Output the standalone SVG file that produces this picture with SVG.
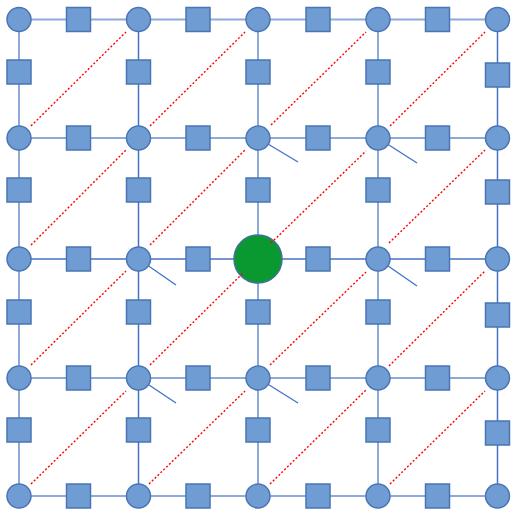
<svg xmlns="http://www.w3.org/2000/svg" width="512" height="510" viewBox="0 0 512 510">
<style>
.l{stroke:#8eaadb;stroke-width:2;fill:none}
.d{stroke:#4472c4;stroke-width:1.5;fill:none}
.t{stroke:#4472c4;stroke-width:1.3;fill:none}
.r{stroke:#ff0000;stroke-width:1.4;stroke-dasharray:2 2;fill:none}
.n{fill:#6f9dd3;stroke:#4a74b4;stroke-width:1.5}
.g{fill:#0a9930;stroke:#41719c;stroke-width:1.5}
</style>
<rect width="512" height="510" fill="#ffffff"/>
<g id="connectors">
<line class="l" x1="19" y1="19.5" x2="497.5" y2="19.5"/>
<line class="l" x1="19" y1="138" x2="497.5" y2="138"/>
<line class="d" x1="19" y1="259" x2="497.5" y2="259"/>
<line class="l" x1="19" y1="378" x2="497.5" y2="378"/>
<line class="l" x1="19" y1="496" x2="497.5" y2="496"/>
<line class="l" x1="19" y1="19.5" x2="19" y2="496"/>
<line class="d" x1="138.5" y1="19.5" x2="138.5" y2="496"/>
<line class="l" x1="258" y1="19.5" x2="258" y2="496"/>
<line class="l" x1="378" y1="19.5" x2="378" y2="496"/>
<line class="d" x1="497.5" y1="19.5" x2="497.5" y2="496"/>
<line class="t" x1="258" y1="138" x2="298" y2="162"/>
<line class="t" x1="378" y1="138" x2="417" y2="163"/>
<line class="t" x1="138.5" y1="259" x2="176" y2="285"/>
<line class="t" x1="378" y1="259" x2="417" y2="286"/>
<line class="t" x1="138.5" y1="378" x2="176" y2="403"/>
<line class="t" x1="258" y1="378" x2="298" y2="403"/>
</g>
<g id="squares">
<rect id="sh00" class="n" x="66.5" y="7.5" width="24" height="24"/>
<rect id="sh01" class="n" x="186" y="7.5" width="24" height="24"/>
<rect id="sh02" class="n" x="306" y="7.5" width="24" height="24"/>
<rect id="sh03" class="n" x="425.5" y="7.5" width="24" height="24"/>
<rect id="sh10" class="n" x="66.5" y="126" width="24" height="24"/>
<rect id="sh11" class="n" x="186" y="126" width="24" height="24"/>
<rect id="sh12" class="n" x="306" y="126" width="24" height="24"/>
<rect id="sh13" class="n" x="425.5" y="126" width="24" height="24"/>
<rect id="sh20" class="n" x="66.5" y="247" width="24" height="24"/>
<rect id="sh21" class="n" x="186" y="247" width="24" height="24"/>
<rect id="sh22" class="n" x="306" y="247" width="24" height="24"/>
<rect id="sh23" class="n" x="425.5" y="247" width="24" height="24"/>
<rect id="sh30" class="n" x="66.5" y="366" width="24" height="24"/>
<rect id="sh31" class="n" x="186" y="366" width="24" height="24"/>
<rect id="sh32" class="n" x="306" y="366" width="24" height="24"/>
<rect id="sh33" class="n" x="425.5" y="366" width="24" height="24"/>
<rect id="sh40" class="n" x="66.5" y="484" width="24" height="24"/>
<rect id="sh41" class="n" x="186" y="484" width="24" height="24"/>
<rect id="sh42" class="n" x="306" y="484" width="24" height="24"/>
<rect id="sh43" class="n" x="425.5" y="484" width="24" height="24"/>
<rect id="sv00" class="n" x="7" y="60" width="24" height="24"/>
<rect id="sv01" class="n" x="7" y="178" width="24" height="24"/>
<rect id="sv02" class="n" x="7" y="300" width="24" height="24"/>
<rect id="sv03" class="n" x="7" y="418" width="24" height="24"/>
<rect id="sv10" class="n" x="126.5" y="60" width="24" height="24"/>
<rect id="sv11" class="n" x="126.5" y="178" width="24" height="24"/>
<rect id="sv12" class="n" x="126.5" y="300" width="24" height="24"/>
<rect id="sv13" class="n" x="126.5" y="418" width="24" height="24"/>
<rect id="sv20" class="n" x="246" y="60" width="24" height="24"/>
<rect id="sv21" class="n" x="246" y="178" width="24" height="24"/>
<rect id="sv22" class="n" x="246" y="300" width="24" height="24"/>
<rect id="sv23" class="n" x="246" y="418" width="24" height="24"/>
<rect id="sv30" class="n" x="366" y="60" width="24" height="24"/>
<rect id="sv31" class="n" x="366" y="178" width="24" height="24"/>
<rect id="sv32" class="n" x="366" y="300" width="24" height="24"/>
<rect id="sv33" class="n" x="366" y="418" width="24" height="24"/>
<rect id="sv40" class="n" x="485.5" y="63" width="24" height="24"/>
<rect id="sv41" class="n" x="485.5" y="180" width="24" height="24"/>
<rect id="sv42" class="n" x="485.5" y="303" width="24" height="24"/>
<rect id="sv43" class="n" x="485.5" y="421" width="24" height="24"/>
</g>
<g id="circles">
<circle id="c00" class="n" cx="19" cy="19.5" r="12"/>
<circle id="c01" class="n" cx="138.5" cy="19.5" r="12"/>
<circle id="c02" class="n" cx="258" cy="19.5" r="12"/>
<circle id="c03" class="n" cx="378" cy="19.5" r="12"/>
<circle id="c04" class="n" cx="497.5" cy="19.5" r="12"/>
<circle id="c10" class="n" cx="19" cy="138" r="12"/>
<circle id="c11" class="n" cx="138.5" cy="138" r="12"/>
<circle id="c12" class="n" cx="258" cy="138" r="12"/>
<circle id="c13" class="n" cx="378" cy="138" r="12"/>
<circle id="c14" class="n" cx="497.5" cy="138" r="12"/>
<circle id="c20" class="n" cx="19" cy="259" r="12"/>
<circle id="c21" class="n" cx="138.5" cy="259" r="12"/>
<circle id="c22" class="g" cx="258" cy="259" r="24"/>
<circle id="c23" class="n" cx="378" cy="259" r="12"/>
<circle id="c24" class="n" cx="497.5" cy="259" r="12"/>
<circle id="c30" class="n" cx="19" cy="378" r="12"/>
<circle id="c31" class="n" cx="138.5" cy="378" r="12"/>
<circle id="c32" class="n" cx="258" cy="378" r="12"/>
<circle id="c33" class="n" cx="378" cy="378" r="12"/>
<circle id="c34" class="n" cx="497.5" cy="378" r="12"/>
<circle id="c40" class="n" cx="19" cy="496" r="12"/>
<circle id="c41" class="n" cx="138.5" cy="496" r="12"/>
<circle id="c42" class="n" cx="258" cy="496" r="12"/>
<circle id="c43" class="n" cx="378" cy="496" r="12"/>
<circle id="c44" class="n" cx="497.5" cy="496" r="12"/>
</g>
<g id="diagonals">
<line class="r" x1="31" y1="126" x2="126" y2="32"/>
<line class="r" x1="150" y1="126" x2="245" y2="32"/>
<line class="r" x1="271" y1="125" x2="366" y2="32"/>
<line class="r" x1="390" y1="126" x2="485" y2="32"/>
<line class="r" x1="31" y1="245" x2="126" y2="150"/>
<line class="r" x1="150" y1="245" x2="245" y2="150"/>
<line class="r" x1="271" y1="243" x2="366" y2="151"/>
<line class="r" x1="389" y1="243" x2="485" y2="150"/>
<line class="r" x1="31" y1="365" x2="126" y2="271"/>
<line class="r" x1="150" y1="365" x2="243" y2="273"/>
<line class="r" x1="270" y1="365" x2="366" y2="272"/>
<line class="r" x1="389" y1="366" x2="485" y2="271"/>
<line class="r" x1="31" y1="484" x2="126" y2="391"/>
<line class="r" x1="149" y1="484" x2="245" y2="391"/>
<line class="r" x1="270" y1="484" x2="366" y2="390"/>
<line class="r" x1="390" y1="484" x2="485" y2="391"/>
</g>
</svg>
